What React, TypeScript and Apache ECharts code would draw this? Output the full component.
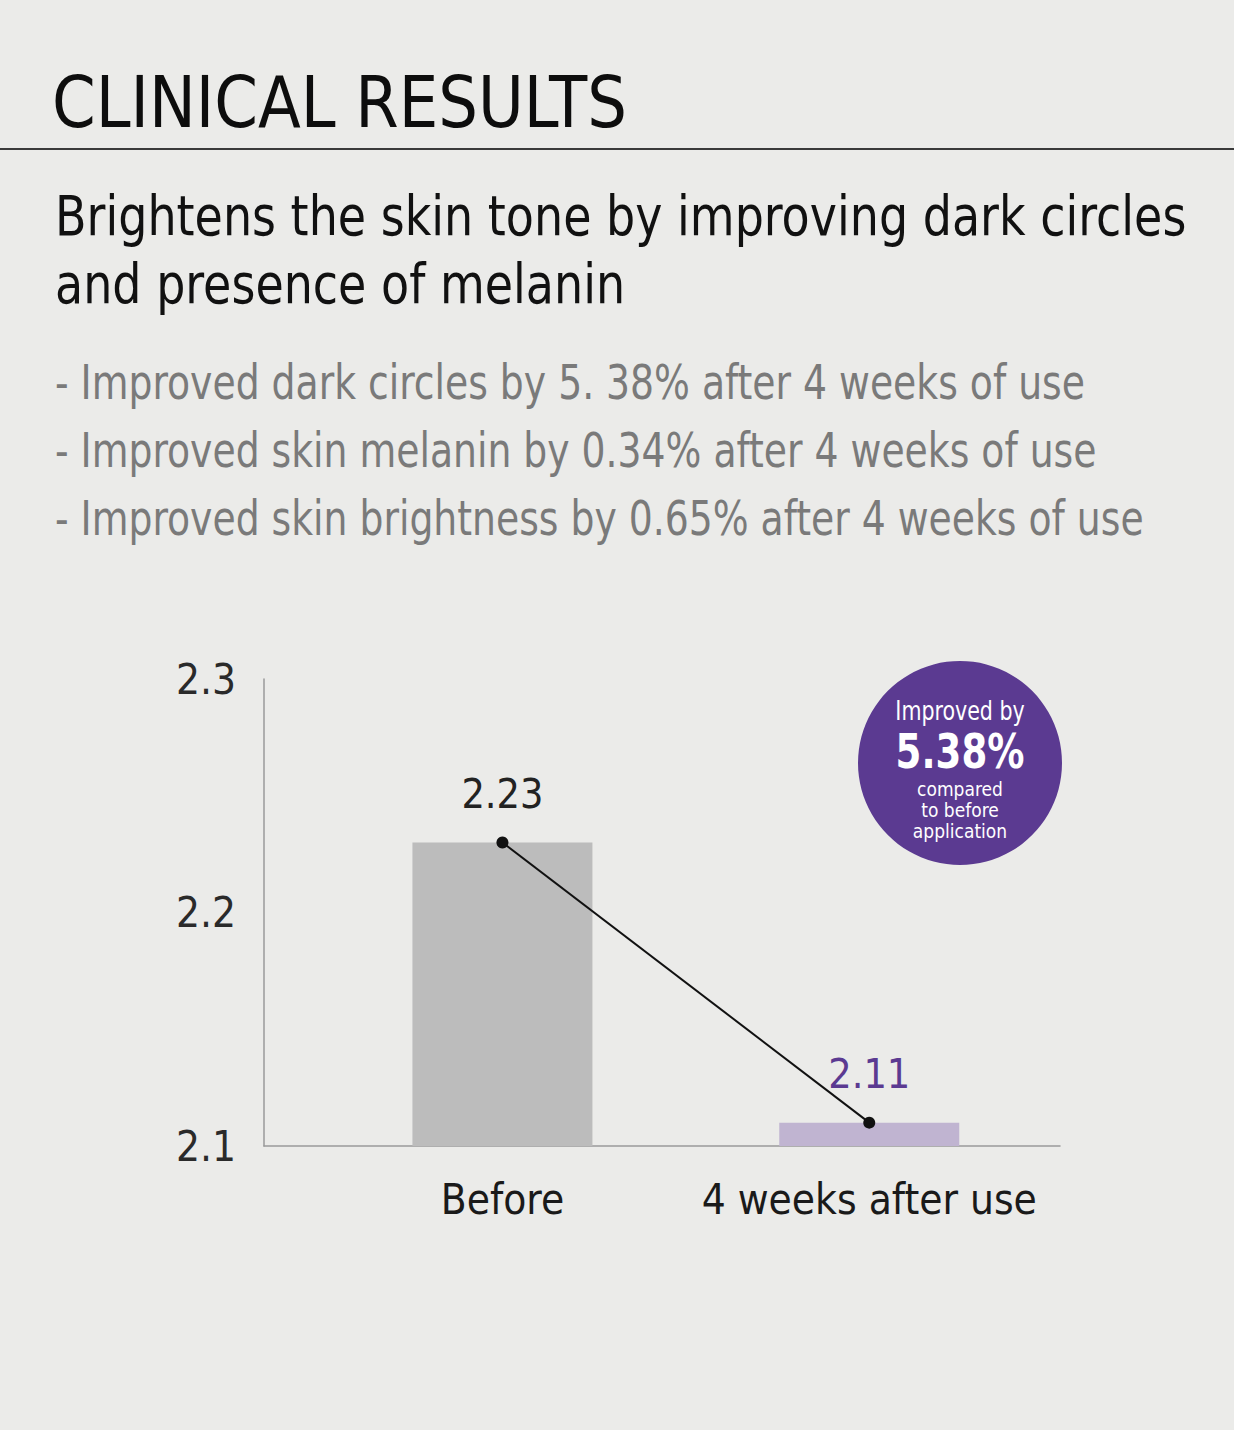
import React, { useEffect, useRef } from "react";
import * as echarts from "echarts";

// Chart data
const categories = ["Before", "4 weeks after use"];
const scores = [2.23, 2.11];
const yTicks = [2.1, 2.2, 2.3];
const barColors = ["#bcbcbc", "#c0b4d1"];
const labelColors = ["#222222", "#5b3a91"];

// Copy
const title = "CLINICAL RESULTS";
const subtitleLines = [
  "Brightens the skin tone by improving dark circles",
  "and presence of melanin",
];
const bullets = [
  "- Improved dark circles by 5. 38% after 4 weeks of use",
  "- Improved skin melanin by 0.34% after 4 weeks of use",
  "- Improved skin brightness by 0.65% after 4 weeks of use",
];
const badgeLines = ["Improved by", "5.38%", "compared", "to before", "application"];

const FONT = "'DejaVu Sans Condensed', 'DejaVu Sans', sans-serif";
const PURPLE = "#5b3a91";

export default function App() {
  const ref = useRef<HTMLDivElement>(null);

  useEffect(() => {
    document.body.style.margin = "0";
    if (!ref.current) return;
    const chart = echarts.init(ref.current, null, { renderer: "svg" });

    const points = scores.map((v, i) => [i + 1, v]);

    // left-anchored heading text, narrowed horizontally to a condensed look
    const leftText = (text: string, x: number, y: number, font: string, fill: string, sx: number) => ({
      type: "text",
      x,
      y,
      scaleX: sx,
      style: { text, font, fill, textAlign: "left", textVerticalAlign: "top" },
    });

    const badgeY = [711, 751, 789, 810, 831];
    const badgeFont = [`26px ${FONT}`, `bold 48px ${FONT}`, `20px ${FONT}`, `20px ${FONT}`, `20px ${FONT}`];
    const badgeScale = [0.88, 0.86, 0.95, 0.95, 0.95];

    chart.setOption({
      animation: false,
      backgroundColor: "#ebebe9",
      grid: { left: 264, right: 174, top: 679, bottom: 284, containLabel: false },
      xAxis: {
        type: "value",
        min: 0.35,
        max: 2.52,
        splitLine: { show: false },
        axisTick: { show: false },
        axisLine: { show: true, lineStyle: { color: "#9a9a9a", width: 1.5 } },
        axisLabel: {
          customValues: categories.map((_, i) => i + 1),
          formatter: (v: number) => categories[Math.round(v) - 1] ?? "",
          fontFamily: FONT,
          fontSize: 42,
          color: "#1a1a1a",
          margin: 32,
        },
      },
      yAxis: {
        type: "value",
        min: yTicks[0],
        max: yTicks[yTicks.length - 1],
        interval: 0.1,
        splitLine: { show: false },
        axisTick: { show: false },
        axisLine: { show: true, lineStyle: { color: "#9a9a9a", width: 1.5 } },
        axisLabel: {
          formatter: (v: number) => v.toFixed(1),
          fontFamily: FONT,
          fontSize: 42,
          color: "#2a2a2a",
          margin: 28,
        },
      },
      series: [
        {
          type: "bar",
          barWidth: 180,
          data: points.map((p, i) => ({ value: p, itemStyle: { color: barColors[i] } })),
          z: 2,
        },
        {
          type: "line",
          symbol: "circle",
          symbolSize: 12,
          lineStyle: { color: "#111", width: 2 },
          itemStyle: { color: "#111" },
          z: 5,
          data: points.map((p, i) => ({
            value: p,
            label: {
              show: true,
              position: "top",
              distance: 22,
              formatter: () => scores[i].toFixed(2),
              fontFamily: FONT,
              fontSize: 41,
              color: labelColors[i],
            },
          })),
        },
      ],
      graphic: [
        leftText(title, 52, 66, `72px ${FONT}`, "#0d0d0d", 0.966),
        {
          type: "line",
          shape: { x1: 0, y1: 149, x2: 1234, y2: 149 },
          style: { stroke: "#3a3a3a", lineWidth: 2 },
        },
        ...subtitleLines.map((t, i) => leftText(t, 55, 188 + i * 68, `56px ${FONT}`, "#111", 0.913)),
        ...bullets.map((t, i) => leftText(t, 55, 358 + i * 68, `48px ${FONT}`, "#7a7a7a", 0.874)),
        {
          type: "circle",
          shape: { cx: 960, cy: 763, r: 102 },
          style: { fill: PURPLE },
        },
        ...badgeLines.map((t, i) => ({
          type: "text",
          x: 960,
          y: badgeY[i],
          scaleX: badgeScale[i],
          z: 10,
          style: {
            text: t,
            font: badgeFont[i],
            fill: "#ffffff",
            textAlign: "center",
            textVerticalAlign: "middle",
          },
        })),
      ],
    });

    return () => chart.dispose();
  }, []);

  return <div ref={ref} style={{ width: 1234, height: 1430 }} />;
}
